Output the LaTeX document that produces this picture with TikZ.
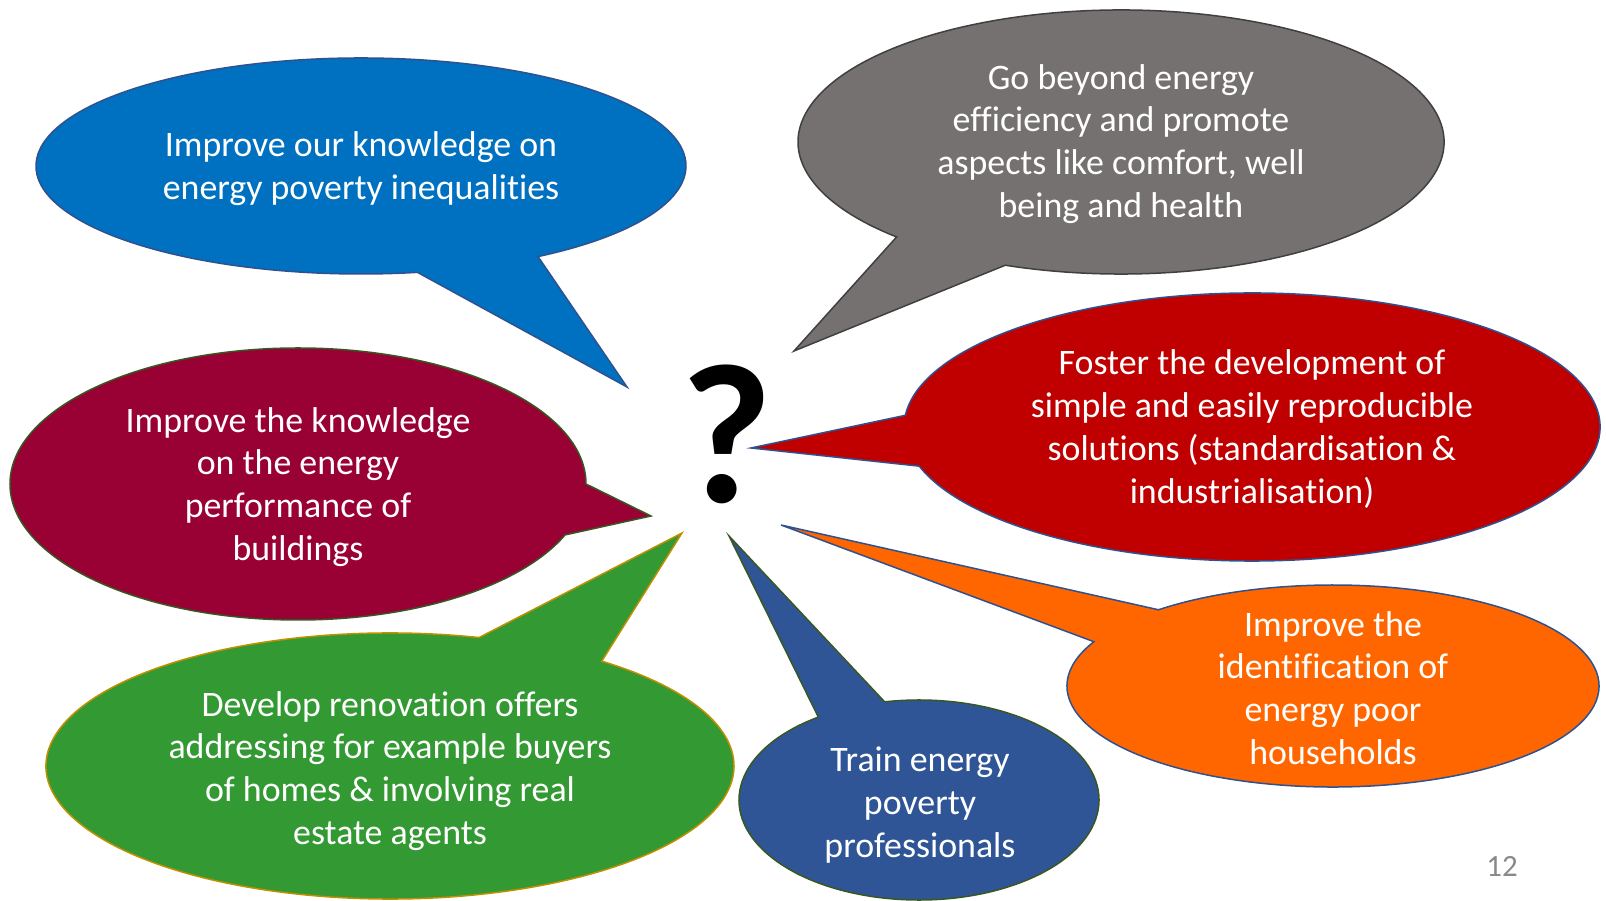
\documentclass[tikz,border=0pt]{standalone}
\usepackage{fontspec}
\setmainfont{Carlito}[Ligatures=NoCommon]
\usetikzlibrary{calc}

\definecolor{pblue}{HTML}{0070C0}
\definecolor{pgray}{HTML}{767171}
\definecolor{pred}{HTML}{C00000}
\definecolor{pmaroon}{HTML}{990033}
\definecolor{pgreen}{HTML}{339933}
\definecolor{pnavy}{HTML}{2F5597}
\definecolor{porange}{HTML}{FF6600}
\definecolor{lineblue}{HTML}{2F528F}
\definecolor{linegray}{HTML}{404040}
\definecolor{lineolive}{HTML}{385723}
\definecolor{linegold}{HTML}{BF9000}
\definecolor{pagegray}{HTML}{898989}

\tikzset{
  bubble/.style={line width=1.5bp, line join=miter},
  bubbletext/.style={text=white, align=center, inner sep=0pt,
    font=\fontsize{36}{43}\selectfont},
}

% speech bubble: style, centre x, centre y, x radius, y radius,
% lower and upper tail angle on the ellipse, tail tip x, tail tip y
\newcommand{\speechbubble}[9]{%
  \draw[#1] ($(#2,#3)+(#6:#4bp and #5bp)$) -- (#8,#9)
    -- ($(#2,#3)+(#7:#4bp and #5bp)$)
    arc[start angle=#7, end angle={#6+360}, x radius=#4bp, y radius=#5bp]
    -- cycle;}

\begin{document}
\begin{tikzpicture}[x=1bp, y=1bp]
\useasboundingbox (0,0) rectangle (1606,900);

% bubbles
\speechbubble{bubble, fill=pblue, draw=lineblue}{361}{734}{325}{108}{280}{303}{627}{513}
\speechbubble{bubble, fill=pgray, draw=linegray}{1121}{758}{323}{132}{226}{249}{794}{549}
\speechbubble{bubble, fill=pred, draw=lineblue}{1252}{473}{348}{134}{175}{197}{751}{452}
\speechbubble{bubble, fill=pmaroon, draw=lineolive}{298}{416}{288}{136}{-22}{0}{651}{384}
\speechbubble{bubble, fill=pgreen, draw=linegold}{390}{134}{344}{133}{52}{75}{682}{367}
\speechbubble{bubble, fill=pnavy, draw=lineolive}{919}{100}{180}{100}{101}{124}{729}{364}
\speechbubble{bubble, fill=porange, draw=lineblue}{1333}{214}{266}{101}{131}{154}{781}{375}

% texts
\node[bubbletext] (knowledge) at (361,731)
  {Improve our knowledge on\\energy poverty inequalities};
\node[bubbletext] (beyond) at (1121,756)
  {Go beyond energy\\efficiency and promote\\aspects like comfort, well\\being and health};
\node[bubbletext] (foster) at (1252,471)
  {Foster the development of\\simple and easily reproducible\\solutions (standardisation \&\\industrialisation)};
\node[bubbletext] (performance) at (298,413)
  {Improve the knowledge\\on the energy\\performance of\\buildings};
\node[bubbletext] (renovation) at (390,129)
  {Develop renovation offers\\addressing for example buyers\\of homes \& involving real\\estate agents};
\node[bubbletext] (train) at (920,95)
  {Train energy\\poverty\\professionals};
\node[bubbletext] (identify) at (1333,212)
  {Improve the\\identification of\\energy poor\\households};

% central question mark and page number
\node[inner sep=0pt, font=\fontsize{200}{200}\selectfont\bfseries] (question) at (727,466) {?};
\node[inner sep=0pt, text=pagegray, font=\fontsize{31}{31}\selectfont] (page) at (1502,34) {12};
\end{tikzpicture}
\end{document}
